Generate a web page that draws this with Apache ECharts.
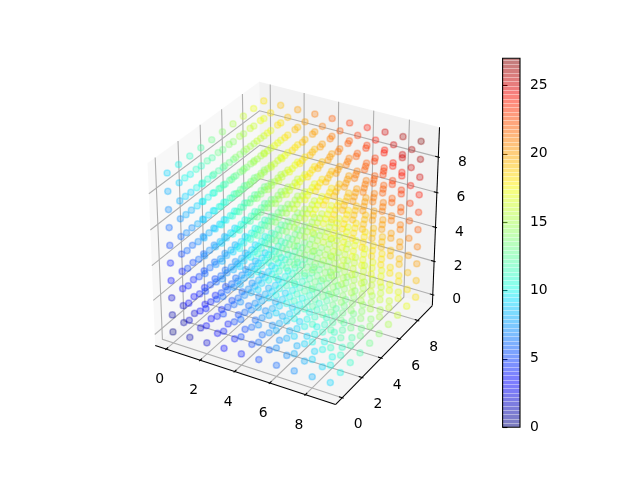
<!DOCTYPE html>
<html>
<head>
<meta charset="utf-8">
<script src="https://cdn.jsdelivr.net/npm/echarts@6/dist/echarts.min.js"></script>
<style>
  html, body { margin: 0; background: #fff; }
  #chart { width: 640px; height: 480px; }
</style>
</head>
<body>
<div id="chart"></div>
<script>
// grid positions along each axis of the cube, colour value is their sum
const xValues = [0, 1, 2, 3, 4, 5, 6, 7, 8, 9];
const yValues = [0, 1, 2, 3, 4, 5, 6, 7, 8, 9];
const zValues = [0, 1, 2, 3, 4, 5, 6, 7, 8, 9];
const tickValues = [0, 2, 4, 6, 8];
const colorbarTicks = [0, 5, 10, 15, 20, 25];
const colorMax = 27;
const colorLevels = 256;
const colorbarBand = 3; // levels per visible stripe of the colorbar

// jet colormap segments
const jetRed = [[0, 0], [0.35, 0], [0.66, 1], [0.89, 1], [1, 0.5]];
const jetGreen = [[0, 0], [0.125, 0], [0.375, 1], [0.64, 1], [0.91, 0], [1, 0]];
const jetBlue = [[0, 0.5], [0.11, 1], [0.34, 1], [0.65, 0], [1, 0]];

function segment(stops, t) {
  for (let i = 1; i < stops.length; i++) {
    if (t <= stops[i][0]) {
      const a = stops[i - 1], b = stops[i];
      return a[1] + (b[1] - a[1]) * (t - a[0]) / (b[0] - a[0]);
    }
  }
  return stops[stops.length - 1][1];
}
function jet(value, alpha) {
  const level = Math.min(colorLevels - 1, Math.floor(value / colorMax * colorLevels));
  const t = level / (colorLevels - 1);
  const c = [jetRed, jetGreen, jetBlue].map(s => Math.round(segment(s, t) * 255));
  return `rgba(${c[0]},${c[1]},${c[2]},${alpha})`;
}

// same camera as a default mplot3d view: elev 30, azim -60, dist 10, unit cube
const viewLow = -0.45, viewHigh = 9.45;
const paneMargin = (viewHigh - viewLow) / 48;
const paneLow = viewLow - paneMargin, paneHigh = viewHigh + paneMargin;
const elev = 30 * Math.PI / 180, azim = -60 * Math.PI / 180, dist = 10;
const w = [Math.cos(elev) * Math.cos(azim), Math.cos(elev) * Math.sin(azim), Math.sin(elev)];
const eye = [0.5 + dist * w[0], 0.5 + dist * w[1], 0.5 + dist * w[2]];
const uLen = Math.hypot(w[1], w[0]);
const u = [-w[1] / uLen, w[0] / uLen, 0];
const v = [w[1] * u[2] - w[2] * u[1], w[2] * u[0] - w[0] * u[2], w[0] * u[1] - w[1] * u[0]];

const screenScale = 369.6 / 0.185;
const screenX = 296, screenY = 237.4;

function viewCoords(p) {
  const d = p.map((val, i) => (val - viewLow) / (viewHigh - viewLow) - eye[i]);
  const dot = a => a[0] * d[0] + a[1] * d[1] + a[2] * d[2];
  return [dot(u), dot(v), dot(w)];
}
function project(p) {
  const c = viewCoords(p);
  return [screenX + screenScale * c[0] / -c[2], screenY - screenScale * c[1] / -c[2]];
}

// cube points, far ones first
const cubePoints = [];
xValues.forEach(x => yValues.forEach(y => zValues.forEach(z => {
  cubePoints.push({ p: [x, y, z], value: x + y + z, depth: viewCoords([x, y, z])[2] });
})));
cubePoints.sort((a, b) => a.depth - b.depth);

const scatterData = cubePoints.map(d => {
  const color = jet(d.value, 0.3);
  return { value: project(d.p), itemStyle: { color: color, borderColor: color } };
});

// polygons and polylines of the box
const L = paneLow, H = paneHigh;
const panes = [
  { color: 'rgba(242,242,242,0.5)', pts: [[L, L, L], [L, H, L], [L, H, H], [L, L, H]] },
  { color: 'rgba(230,230,230,0.5)', pts: [[L, H, L], [H, H, L], [H, H, H], [L, H, H]] },
  { color: 'rgba(236,236,236,0.5)', pts: [[L, L, L], [H, L, L], [H, H, L], [L, H, L]] }
];
const gridLines = [];
tickValues.forEach(t => {
  gridLines.push([[t, L, L], [t, H, L], [t, H, H]]);
  gridLines.push([[H, t, L], [L, t, L], [L, t, H]]);
  gridLines.push([[L, L, t], [L, H, t], [H, H, t]]);
});
const tickSize = (H - L) / 12;
const axisLines = [
  [[L, L, L], [H, L, L]],
  [[H, L, L], [H, H, L]],
  [[H, H, L], [H, H, H]]
];
const tickMarks = [];
tickValues.forEach(t => {
  tickMarks.push([[t, L - 0.1 * tickSize, L], [t, L + 0.2 * tickSize, L]]);
  tickMarks.push([[H + 0.1 * tickSize, t, L], [H - 0.2 * tickSize, t, L]]);
  tickMarks.push([[H + 0.1 * tickSize, H, t], [H - 0.2 * tickSize, H, t]]);
});
const tickLabels = [];
tickValues.forEach(t => {
  tickLabels.push({ text: t, at: [t, L, L], dx: -6.5, dy: 30.5 });
  tickLabels.push({ text: t, at: [H, t, L], dx: 16, dy: 27 });
  tickLabels.push({ text: t, at: [H, H, t], dx: 24, dy: 5 });
});

function polylineSeries(items, color, width) {
  return {
    type: 'custom',
    coordinateSystem: 'cartesian2d',
    xAxisIndex: 0,
    yAxisIndex: 0,
    silent: true,
    data: items.map((_, i) => [i, 0]),
    renderItem: (params, api) => ({
      type: 'polyline',
      shape: { points: items[params.dataIndex].map(p => api.coord(project(p))) },
      style: { stroke: color, lineWidth: width, fill: null }
    })
  };
}

const levelData = [];
for (let i = 0; i < colorLevels; i += colorbarBand) levelData.push([0, i / colorLevels * colorMax]);

const option = {
  animation: false,
  backgroundColor: '#fff',
  textStyle: { fontFamily: 'DejaVu Sans' },
  grid: [
    { left: 0, top: 0, right: 0, bottom: 0 },
    { left: 502.6, top: 58.2, width: 17.4, height: 369, show: true, z: 5,
      backgroundColor: 'transparent', borderColor: '#000', borderWidth: 1.1 }
  ],
  xAxis: [
    { type: 'value', min: 0, max: 640, show: false, gridIndex: 0 },
    { type: 'value', min: 0, max: 1, show: false, gridIndex: 1 }
  ],
  yAxis: [
    { type: 'value', min: 0, max: 480, inverse: true, show: false, gridIndex: 0 },
    {
      type: 'value', min: 0, max: colorMax, gridIndex: 1, position: 'right',
      splitLine: { show: false },
      axisLine: { show: false },
      axisTick: { show: true, length: 4.86, customValues: colorbarTicks, lineStyle: { color: '#000', width: 1.1 } },
      axisLabel: { show: true, margin: 10, customValues: colorbarTicks, color: '#000', fontSize: 13.9, fontFamily: 'DejaVu Sans' }
    }
  ],
  series: [
    {
      type: 'custom',
      coordinateSystem: 'cartesian2d',
      silent: true,
      data: panes.map((_, i) => [i, 0]),
      renderItem: (params, api) => ({
        type: 'polygon',
        shape: { points: panes[params.dataIndex].pts.map(p => api.coord(project(p))) },
        style: { fill: panes[params.dataIndex].color }
      })
    },
    polylineSeries(gridLines, 'rgb(176,176,176)', 1.1),
    polylineSeries(axisLines, '#000', 1.04),
    polylineSeries(tickMarks, '#000', 1.04),
    {
      type: 'custom',
      coordinateSystem: 'cartesian2d',
      silent: true,
      data: tickLabels.map((_, i) => [i, 0]),
      renderItem: (params, api) => {
        const item = tickLabels[params.dataIndex];
        const pos = api.coord(project(item.at));
        return {
          type: 'text',
          x: pos[0] + item.dx,
          y: pos[1] + item.dy,
          style: { text: String(item.text), fill: '#000', font: '13.9px "DejaVu Sans"', textAlign: 'center', textVerticalAlign: 'middle' }
        };
      }
    },
    {
      type: 'scatter',
      coordinateSystem: 'cartesian2d',
      xAxisIndex: 0,
      yAxisIndex: 0,
      symbol: 'circle',
      symbolSize: 6.2,
      silent: true,
      large: false,
      progressive: 0,
      itemStyle: { borderWidth: 1.5, opacity: 1 },
      data: scatterData
    },
    {
      type: 'custom',
      coordinateSystem: 'cartesian2d',
      xAxisIndex: 1,
      yAxisIndex: 1,
      silent: true,
      data: levelData,
      renderItem: (params, api) => {
        // one band: a single layer over its light row, two layers below it
        const low = api.value(1);
        const high = Math.min(colorMax, low + colorbarBand * colorMax / colorLevels);
        const a = api.coord([0, low]);
        const b = api.coord([1, high]);
        const top = Math.round(b[1]), bottom = Math.round(a[1]);
        const color = jet(low + 0.01, 0.3);
        return {
          type: 'group',
          children: [
            { type: 'rect', shape: { x: a[0], y: top, width: b[0] - a[0], height: bottom - top }, style: { fill: color } },
            { type: 'rect', shape: { x: a[0], y: top + 1, width: b[0] - a[0], height: bottom - top - 1 }, style: { fill: color } }
          ]
        };
      }
    }
  ]
};

const chart = echarts.init(document.getElementById('chart'), null, { renderer: 'canvas' });
chart.setOption(option);
</script>
</body>
</html>
